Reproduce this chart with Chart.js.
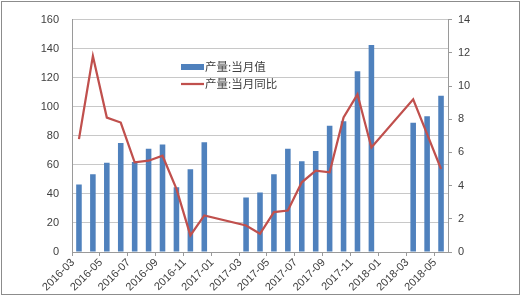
<!DOCTYPE html>
<html>
<head>
<meta charset="utf-8">
<script src="https://cdn.jsdelivr.net/npm/chart.js@4"></script>
<style>
html,body{margin:0;padding:0;background:#fff;}
#wrap{position:absolute;left:0;top:0;width:521px;height:298px;}
</style>
</head>
<body>
<div id="wrap"><canvas id="c" width="521" height="298"></canvas></div>
<script>
const months = ['2016-03','2016-04','2016-05','2016-06','2016-07','2016-08','2016-09','2016-10','2016-11','2016-12',
  '2017-01','2017-02','2017-03','2017-04','2017-05','2017-06','2017-07','2017-08','2017-09','2017-10','2017-11','2017-12',
  '2018-01','2018-02','2018-03','2018-04','2018-05'];
const outputValue = [46.5, 53.5, 61.5, 75, 62, 71, 74, 44.5, 57, 75.5, null, null, 37.5, 41, 53.5, 71, 62.5, 69.5, 87, 90, 124.5, 142.5, null, null, 89, 93.5, 107.5];
const outputYoY = [6.8, 11.8, 8.1, 7.8, 5.4, 5.5, 5.8, 3.8, 1.0, 2.2, null, null, 1.6, 1.1, 2.4, 2.5, 4.2, 4.9, 4.8, 8.1, 9.5, 6.3, null, null, 9.2, 7.1, 5.0];
const seriesNames = ['产量:当月值', '产量:当月同比'];
const leftTicks = [0, 160, 20];
const rightTicks = [0, 14, 2];

const BLUE = '#4f81bd', RED = '#c0504d';
const GRID = '#c8c8c8', AXIS = '#9a9a9a', TXT = '#404040';
const FONT = "'Liberation Sans', Arial, sans-serif";

const borderPlugin = {
  id: 'outerBorder',
  afterDraw(chart) {
    const ctx = chart.ctx;
    ctx.save();
    ctx.strokeStyle = '#8c8c8c';
    ctx.lineWidth = 1;
    ctx.strokeRect(1.5, 1.5, 518, 293);
    ctx.restore();
  }
};

const legendPlugin = {
  id: 'innerLegend',
  afterDatasetsDraw(chart) {
    const ctx = chart.ctx;
    const x0 = 181, y1 = 67, y2 = 84;
    ctx.save();
    ctx.fillStyle = BLUE;
    ctx.fillRect(x0, y1 - 3, 23, 6);
    ctx.strokeStyle = RED;
    ctx.lineWidth = 2.25;
    ctx.beginPath();
    ctx.moveTo(x0, y2); ctx.lineTo(x0 + 23, y2);
    ctx.stroke();
    ctx.fillStyle = TXT;
    ctx.font = "11.5px 'Noto Sans CJK SC', sans-serif";
    ctx.textBaseline = 'middle';
    ctx.textAlign = 'left';
    ctx.fillText(chart.data.datasets[0].label, x0 + 24, y1);
    ctx.fillText(chart.data.datasets[1].label, x0 + 24, y2);
    ctx.restore();
  }
};

new Chart(document.getElementById('c'), {
  data: {
    labels: months,
    datasets: [
      {
        type: 'bar', label: seriesNames[0], data: outputValue, yAxisID: 'y',
        backgroundColor: BLUE, borderWidth: 0, categoryPercentage: 1, barPercentage: 0.4, order: 2
      },
      {
        type: 'line', label: seriesNames[1], data: outputYoY, yAxisID: 'y1',
        borderColor: RED, borderWidth: 2.25, pointRadius: 0, tension: 0, spanGaps: true, order: 1
      }
    ]
  },
  options: {
    responsive: false,
    animation: false,
    layout: { padding: { top: 9.4, left: 0, right: 0, bottom: 0 } },
    plugins: { legend: { display: false }, tooltip: { enabled: false } },
    scales: {
      x: {
        type: 'category',
        offset: true,
        grid: {
          offset: true, drawOnChartArea: false, drawTicks: true, tickLength: 4,
          tickColor: (ctx) => (ctx.index % 2 === 0 ? AXIS : 'rgba(0,0,0,0)')
        },
        border: { display: true, color: AXIS },
        ticks: {
          autoSkip: false, maxRotation: 45, minRotation: 45, labelOffset: -6, padding: 0,
          color: TXT, font: { family: FONT, size: 11 },
          callback: function (v, i) { return i % 2 === 0 ? this.getLabelForValue(v) : ''; }
        },
        afterFit: (s) => { s.height = 46; }
      },
      y: {
        position: 'left', min: leftTicks[0], max: leftTicks[1],
        grid: { color: GRID, drawTicks: false },
        border: { display: true, color: AXIS },
        ticks: { stepSize: leftTicks[2], padding: 13, color: TXT, font: { family: FONT, size: 11 } },
        afterFit: (s) => { s.width = 72; }
      },
      y1: {
        position: 'right', min: rightTicks[0], max: rightTicks[1],
        grid: { drawOnChartArea: false, drawTicks: true, tickLength: 4, tickColor: AXIS },
        border: { display: true, color: AXIS },
        ticks: { stepSize: rightTicks[2], padding: 6, color: TXT, font: { family: FONT, size: 11 } },
        afterFit: (s) => { s.width = 73; }
      }
    }
  },
  plugins: [borderPlugin, legendPlugin]
});
</script>
</body>
</html>
